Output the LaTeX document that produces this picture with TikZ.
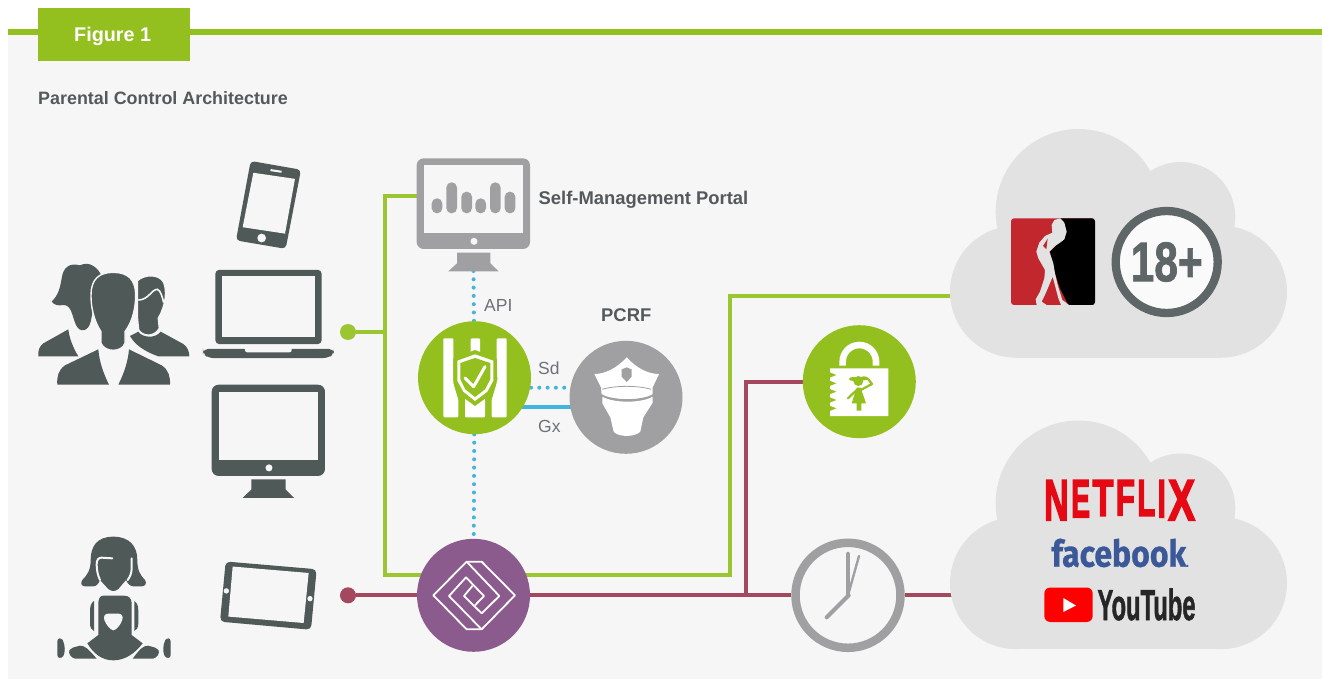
\documentclass[tikz,border=0pt]{standalone}
\usepackage{fontspec}
\usepackage{graphicx}
\setmainfont{Liberation Sans}
\newfontfamily\heavyfont[BoldFeatures={FakeBold=1.6}]{Liberation Sans}
\newfontfamily\nflxfont[BoldFeatures={FakeBold=3.2}]{Liberation Sans}
\newfontfamily\firafont[BoldFeatures={FakeBold=0.8}]{Fira Sans}
\usetikzlibrary{calc}
\definecolor{figgreen}{HTML}{93C01F}
\definecolor{linegreen}{HTML}{9CC631}
\definecolor{panelbg}{HTML}{F6F6F6}
\definecolor{iconcol}{HTML}{4F5958}
\definecolor{greycol}{HTML}{A0A0A2}
\definecolor{purplecol}{HTML}{8B5B8E}
\definecolor{maroon}{HTML}{A3485F}
\definecolor{skyblue}{HTML}{43B4DC}
\definecolor{txtcol}{HTML}{54595B}
\definecolor{cloudcol}{HTML}{E2E2E2}
\definecolor{ringcol}{HTML}{5F6668}
\definecolor{logored}{HTML}{C1272D}
\definecolor{nfred}{HTML}{E50914}
\definecolor{fbblue}{HTML}{3B5998}
\definecolor{ytred}{HTML}{FF0000}
\pgfdeclarelayer{panel}
\pgfdeclarelayer{wires}
\pgfsetlayers{panel,wires,main}
\tikzset{
  hubdisc/.style={circle,minimum size=113pt,inner sep=0pt,draw=none},
  glink/.style={draw=linegreen,line width=4pt},
  mlink/.style={draw=maroon,line width=4pt},
  dotlink/.style={draw=skyblue,line width=4pt,line cap=round,dash pattern=on 0pt off 8.3pt},
  bluelink/.style={draw=skyblue,line width=4pt},
  lbl/.style={anchor=base west,inner sep=0pt,text=txtcol},
  halo/.style={draw=panelbg,line width=1.4pt},
}
\newcommand{\fsz}[1]{\fontsize{#1}{#1}\selectfont}
% one letter of the arched wordmark: height, width, letter
\newcommand{\nfl}[3]{\raisebox{\dimexpr40pt-#1pt\relax}{\resizebox{#2pt}{#1pt}{\nflxfont\bfseries #3}}\kern2.4pt}
\begin{document}
\begin{tikzpicture}[x=1pt,y=-1pt]
\useasboundingbox (0,0) rectangle (1322,679);
% panel & header
\begin{pgfonlayer}{panel}
\fill[panelbg] (8,35) rectangle (1322,679);
\fill[figgreen] (8,29) rectangle (1322,35);
\end{pgfonlayer}
\node[fill=figgreen,inner sep=0pt,minimum width=152pt,minimum height=53pt] (tab) at (114,34.5) {};
\node[lbl,text=white] (figlabel) at (74,41.5) {\fsz{19.8}\textbf{Figure 1}};
\node[lbl] (title) at (38,104.5) {\fsz{17.9}\textbf{Parental Control Architecture}};

% coordinates
\coordinate (portalP) at (417,196);
\coordinate (portalB) at (473.5,271);
\coordinate (cornerA) at (385,196);
\coordinate (cornerB) at (385,575.3);
\coordinate (stubA) at (385,332);
\coordinate (hubG) at (473.5,575.3);
\coordinate (cornerC) at (730,575.3);
\coordinate (cornerD) at (730,296);
\coordinate (cloudA) at (952,296);
\coordinate (cloudB) at (952,595.3);
\coordinate (branch) at (746,595.3);
\coordinate (branchT) at (746,381.7);
\coordinate (sdA) at (531,387.7);
\coordinate (sdB) at (571,387.7);
\coordinate (gxA) at (520,406.7);
\coordinate (gxB) at (572,406.7);

% hubs
\node[hubdisc,fill=figgreen] (shield) at (474.5,377.7) {};
\node[hubdisc,fill=greycol] (pcrf) at (626,397.3) {};
\node[hubdisc,fill=purplecol] (hub) at (473.5,595.3) {};
\node[hubdisc,fill=figgreen] (lock) at (859.3,381.7) {};
\node[circle,minimum size=105pt,inner sep=0pt,draw=greycol,line width=8.5pt,fill=panelbg] (clock) at (848,595.3) {};
\node[circle,fill=linegreen,minimum size=16pt,inner sep=0pt] (gdot) at (348,332) {};
\node[circle,fill=maroon,minimum size=16pt,inner sep=0pt] (mdot) at (348,595.3) {};

% wires
\begin{pgfonlayer}{wires}
\draw[glink] (gdot) -- (stubA);
\draw[glink,line join=miter] (portalP) -- (cornerA) -- (cornerB) -- (hubG);
\draw[glink,line join=miter] (hubG) -- (cornerC) -- (cornerD) -- (cloudA);
\draw[mlink] (mdot) -- (hub);
\draw[mlink] (hub) -- (clock);
\draw[mlink] (clock) -- (cloudB);
\draw[mlink,line join=miter] (branch) -- (branchT) -- (lock);
\draw[dotlink] (portalB) -- (shield);
\draw[dotlink] (shield) -- (hub);
\draw[dotlink] (sdA) -- (sdB);
\draw[bluelink] (gxA) -- (gxB);
\end{pgfonlayer}

% labels
\node[lbl] (lblportal) at (538.5,204.5) {\fsz{18.4}\textbf{Self-Management Portal}};
\node[lbl,text=txtcol!85] (lblapi) at (484,311) {\fsz{17.5}API};
\node[lbl,text=txtcol!85] (lblsd) at (538,374) {\fsz{17.5}Sd};
\node[lbl,text=txtcol!85] (lblgx) at (538,432) {\fsz{17.5}Gx};
\node[lbl] (lblpcrf) at (601,321.7) {\fsz{18.4}\textbf{PCRF}};

% portal monitor (zoom2 coords)
\begin{scope}[shift={(380,150)},scale=.33333]
\fill[greycol,rounded corners=7pt] (110,25) rectangle (450,297);
\fill[panelbg] (131,45) rectangle (430,250);
\fill[panelbg] (282,274) circle (10.5);
\fill[greycol] (231,308) -- (331,308) -- (331,340) -- (356,364) -- (205,364) -- (231,340) -- cycle;
\foreach \cx/\ty in {171/145,215/97,260/125,302/145,346/97,390/125}{
  \fill[greycol,rounded corners=5.2pt] (\cx-16,\ty) rectangle (\cx+16,190);
}
% shield icon
\fill[white,rounded corners=1pt] (190,565) -- (220,565) -- (220,700) -- (235,750) -- (235,802) -- (190,802) -- cycle;
\fill[white,rounded corners=1pt] (380,565) -- (350,565) -- (350,700) -- (335,750) -- (335,802) -- (380,802) -- cycle;
\fill[white,rounded corners=1pt] (272,565) -- (300,565) -- (300,640) -- (315,740) -- (315,802) -- (255,802) -- (255,740) -- (272,640) -- cycle;
\fill[figgreen] (285,600) -- (350,625) -- (352,690) -- (330,735) -- (285,768) -- (240,735) -- (220,690) -- (220,625) -- cycle;
\fill[white] (285,613) -- (340,632) -- (340,692) -- (322,725) -- (285,753) -- (250,725) -- (232,692) -- (232,632) -- cycle;
\fill[figgreen] (285,624) -- (331,639) -- (331,688) -- (315,718) -- (285,741) -- (256,718) -- (241,688) -- (241,639) -- cycle;
\draw[white,line width=3pt,line cap=round,line join=round] (255,684) -- (281,710) -- (315,650);
\end{scope}

% police officer (zoom of the badge disc)
\begin{scope}[shift={(585,350)},scale=.33333]
\fill[white] (28,72) .. controls (60,72) and (95,55) .. (125,22) .. controls (155,55) and (190,72) .. (222,72) -- (203,112) -- (203,135) .. controls (175,152) and (80,152) .. (50,135) -- (48,112) -- cycle;
\draw[greycol,line width=.8pt] (52,118) .. controls (90,106) and (160,106) .. (198,118);
\draw[greycol,line width=1.5pt] (48,134) .. controls (80,155) and (175,155) .. (205,134);
\fill[greycol] (110,58) -- (118,55) -- (125,52) -- (132,55) -- (140,58) -- (140,80) -- (125,96) -- (110,80) -- cycle;
\fill[white] (52,140) .. controls (85,160) and (170,160) .. (203,140) -- (203,158) -- (175,202) -- (166,245) .. controls (150,262) and (100,262) .. (86,245) -- (76,202) -- (52,160) -- cycle;
\end{scope}

% devices (zoom1 coords)
\begin{scope}[shift={(20,140)},xscale=.33333,yscale=.338]
% phone
\fill[iconcol,rounded corners=4pt] (692,62) -- (843,88) -- (797,322) -- (648,297) -- cycle;
\fill[panelbg] (700,97) -- (825,115) -- (795,277) -- (668,258) -- cycle;
\fill[panelbg] (752,86) -- (785,91) -- (784,97) -- (751,92) -- cycle;
\fill[panelbg] (725,290) circle (13);
% laptop
\fill[iconcol,rounded corners=4pt] (586,604) -- (586,384) -- (905,384) -- (905,604) -- cycle;
\fill[panelbg] (606,402) rectangle (885,584);
\fill[iconcol,rounded corners=5pt] (549,618) -- (942,618) -- (942,632) -- (925,645) -- (565,645) -- (549,632) -- cycle;
\fill[panelbg,rounded corners=2pt] (675,612) rectangle (815,628);
% monitor
\fill[iconcol,rounded corners=7pt] (575,724) rectangle (915,994);
\fill[panelbg] (597,745) rectangle (893,947);
\fill[panelbg] (747,970) circle (10.5);
\fill[iconcol] (694,1004) -- (797,1004) -- (797,1034) -- (822,1059) -- (668,1059) -- (694,1034) -- cycle;
% tablet
\fill[iconcol,rounded corners=4.5pt] (617,1247) -- (890,1270) -- (873,1449) -- (600,1425) -- cycle;
\fill[panelbg] (638,1262) -- (866,1281) -- (851,1429) -- (625,1410) -- cycle;
\fill[panelbg] (619,1334) circle (8);
\fill[panelbg] (870,1357) circle (8);
\end{scope}

% adults (zoom9 coords)
\begin{scope}[shift={(30,250)},scale=.33333]
% woman
\fill[iconcol] (65,155) .. controls (85,135) and (90,115) .. (95,85) .. controls (100,50) and (120,38) .. (150,46) .. controls (170,36) and (195,42) .. (212,72) -- (195,150) -- (182,215) .. controls (175,245) and (150,250) .. (138,225) .. controls (125,195) and (125,165) .. (100,165) .. controls (85,168) and (72,165) .. (65,155) -- cycle;
\fill[iconcol] (115,238) .. controls (118,265) and (130,295) .. (145,319) -- (25,319) .. controls (24,300) and (28,290) .. (40,280) -- cycle;
% man
\fill[iconcol] (300,258) -- (325,245) .. controls (335,262) and (375,268) .. (392,245) -- (460,282) .. controls (472,290) and (478,305) .. (478,319) -- (385,319) .. controls (345,305) and (315,285) .. (300,258) -- cycle;
\draw[halo,fill=iconcol] (322,92) .. controls (345,72) and (385,72) .. (400,95) .. controls (412,120) and (408,165) .. (385,205) -- (388,235) .. controls (375,260) and (340,262) .. (326,240) -- (322,200) -- cycle;
\draw[panelbg,line width=1.6pt] (325,150) .. controls (355,150) and (365,118) .. (382,118) .. controls (392,120) and (398,145) .. (401,158);
% centre
\draw[halo,fill=iconcol] (250,67) .. controls (205,67) and (183,90) .. (183,135) .. controls (183,190) and (200,225) .. (213,245) -- (213,280) .. controls (225,308) and (275,308) .. (285,280) -- (285,245) .. controls (300,225) and (317,190) .. (317,135) .. controls (317,90) and (295,67) .. (250,67) -- cycle;
\fill[iconcol] (205,298) .. controls (208,335) and (220,370) .. (237,404) -- (82,404) .. controls (80,380) and (85,360) .. (105,346) -- cycle;
\fill[iconcol] (297,298) .. controls (294,335) and (282,370) .. (265,404) -- (420,404) .. controls (421,380) and (416,360) .. (395,346) -- cycle;
\end{scope}

% girl (zoom10 coords)
\begin{scope}[shift={(50,525)},scale=.33333]
\fill[iconcol] (190,35) .. controls (240,35) and (262,65) .. (262,105) .. controls (262,135) and (270,150) .. (285,165) .. controls (292,175) and (285,184) .. (275,184) -- (250,184) .. controls (240,184) and (232,175) .. (228,165) -- (205,192) .. controls (195,200) and (185,200) .. (175,192) -- (150,165) .. controls (146,175) and (140,184) .. (130,184) -- (105,184) .. controls (95,184) and (90,175) .. (97,165) .. controls (112,150) and (122,135) .. (122,105) .. controls (122,65) and (140,35) .. (190,35) -- cycle;
\draw[panelbg,line width=2pt,line cap=round] (187,100) -- (155,98) .. controls (145,98) and (140,105) .. (140,118) .. controls (140,135) and (143,150) .. (150,165);
\draw[panelbg,line width=2pt,line cap=round] (245,100) -- (245,130) .. controls (245,145) and (240,155) .. (233,165);
\fill[iconcol] (160,212) -- (222,212) .. controls (238,212) and (245,222) .. (245,235) -- (245,330) -- (278,355) .. controls (255,385) and (225,406) .. (190,406) .. controls (155,406) and (130,385) .. (112,355) -- (145,330) -- (145,235) .. controls (145,222) and (150,212) .. (160,212) -- cycle;
\fill[panelbg] (175,266) -- (205,266) .. controls (215,266) and (220,272) .. (217,285) .. controls (212,298) and (200,315) .. (190,316) .. controls (180,315) and (168,298) .. (163,285) .. controls (160,272) and (165,266) .. (175,266) -- cycle;
\fill[iconcol] (132,228) .. controls (122,235) and (120,245) .. (120,260) -- (120,295) .. controls (120,308) and (125,315) .. (132,318) -- cycle;
\fill[iconcol] (253,228) .. controls (263,235) and (265,245) .. (265,260) -- (265,295) .. controls (265,308) and (260,315) .. (253,318) -- cycle;
\fill[iconcol] (22,350) .. controls (22,338) and (32,338) .. (38,345) .. controls (46,360) and (46,382) .. (40,393) .. controls (34,402) and (22,400) .. (22,390) -- cycle;
\fill[iconcol] (362,350) .. controls (362,338) and (352,338) .. (346,345) .. controls (338,360) and (338,382) .. (344,393) .. controls (350,402) and (362,400) .. (362,390) -- cycle;
\fill[iconcol] (68,368) -- (90,362) .. controls (105,362) and (115,372) .. (140,401) -- (75,401) .. controls (62,398) and (55,385) .. (58,376) -- cycle;
\fill[iconcol] (316,368) -- (294,362) .. controls (279,362) and (270,372) .. (248,401) -- (309,401) .. controls (322,398) and (329,385) .. (326,376) -- cycle;
\end{scope}

% lock (zoom6 coords)
\begin{scope}[shift={(790,315)},scale=.33333]
\draw[white,line width=6.6pt] (158,152) -- (158,140) arc[start angle=180,end angle=360,radius=50] -- (258,152);
\fill[white] (120,160) -- (295,160) -- (295,303) -- (120,303) -- (120,288) -- (140,280) -- (120,272) -- (120,263) -- (140,255) -- (120,247) -- (120,238) -- (140,230) -- (120,222) -- (120,213) -- (140,205) -- (120,197) -- (120,188) -- (140,180) -- (120,172) -- cycle;
\fill[figgreen] (205,198) circle (15);
\fill[figgreen] (190,192) ellipse (13 and 6);
\fill[figgreen] (222,190) ellipse (13 and 6);
\fill[figgreen] (200,218) -- (212,218) -- (228,265) -- (214,265) -- (214,287) -- (200,287) -- (200,265) -- (185,265) -- cycle;
\draw[figgreen,line width=2.2pt,line cap=round] (200,225) -- (174,250);
\draw[figgreen,line width=2.2pt,line cap=round,line join=round] (212,225) -- (246,207) -- (234,192);
\end{scope}

% purple icon and clock hands (zoom5 coords)
\begin{scope}[shift={(400,520)},scale=.33333]
\draw[white,line width=1.8pt,line join=round] (100,226) -- (200,125) -- (245,125) -- (345,226) -- (245,328) -- (200,328) -- cycle;
\draw[white,line width=1.8pt,line join=round] (200,125) -- (298,228) -- (245,280) -- (192,228) -- (218,197);
\draw[white,line width=1.8pt,line join=round] (245,328) -- (147,228) -- (198,172) -- (252,228) -- (225,256);
\draw[greycol,line width=4.5pt,line cap=round] (1344,226) -- (1344,102);
\draw[greycol,line width=2.4pt,line cap=round] (1344,226) -- (1377,108);
\draw[greycol,line width=4pt,line cap=round] (1346,226) -- (1280,292);
\end{scope}

% clouds
\foreach \cy in {120,411.5}{
\begin{scope}[shift={(940,\cy)},scale=.33333]
\fill[cloudcol] (228,515) circle (198);
\fill[cloudcol] (843,515) circle (198);
\fill[cloudcol] (415,275) circle (248);
\fill[cloudcol] (722,290) circle (164);
\fill[cloudcol] (228,330) rectangle (843,713);
\end{scope}
}

% adult logo (zoom11 coords)
\begin{scope}[shift={(1005,210)},scale=.33333]
\begin{scope}
\path[clip,rounded corners=3pt] (18,25) rectangle (270,285);
\fill[logored] (18,25) rectangle (270,285);
\fill[black] (165,25) -- (270,25) -- (270,285) -- (190,285) -- (165,235) -- (150,190) -- (135,125) -- (160,100) -- cycle;
\end{scope}
\fill[cloudcol] (148,30) -- (166,25) -- (178,38) -- (185,65) -- (178,88) -- (165,98) -- (150,108) -- (133,125) -- (145,160) -- (150,190) -- (158,225) -- (172,270) -- (192,285) -- (168,285) -- (160,265) -- (143,200) -- (122,250) -- (110,275) -- (125,285) -- (95,285) -- (92,268) -- (105,245) -- (118,205) -- (120,180) -- (100,145) -- (94,125) -- (103,98) -- (120,78) -- (142,68) -- (140,45) -- cycle;
\fill[logored] (114,108) -- (128,86) -- (124,118) -- cycle;
\end{scope}

% 18+ badge
\node[circle,minimum size=102pt,inner sep=0pt,draw=ringcol,line width=8.3pt,fill=white!98!black] (adult) at (1166.7,262) {};
\node[inner sep=0pt,text=ringcol] (adulttxt) at (1166.7,262) {\resizebox{72pt}{39pt}{\heavyfont\bfseries 18+}};

% streaming logos
\node[inner sep=0pt,text=nfred,anchor=north west] (nflx) at (1044,480) {\nfl{40}{24.5}{N}\nfl{37}{19}{E}\nfl{35.5}{21}{T}\nfl{35}{19}{F}\nfl{35.5}{18}{L}\nfl{37}{8}{I}\nfl{40}{27}{X}};
\node[inner sep=0pt,text=fbblue] (fb) at (1120,553) {\resizebox{137pt}{28pt}{\firafont\bfseries facebook{\fontsize{3}{3}\selectfont .}}};
\fill[ytred,rounded corners=6pt] (1044.3,587.5) rectangle (1092.7,622);
\fill[white] (1063.3,598) -- (1076,605.5) -- (1063.3,612) -- cycle;
\node[inner sep=0pt,text=black!85] (yt) at (1146.5,604.5) {\resizebox{98pt}{31.5pt}{\heavyfont\bfseries YouTube}};
\end{tikzpicture}
\end{document}
